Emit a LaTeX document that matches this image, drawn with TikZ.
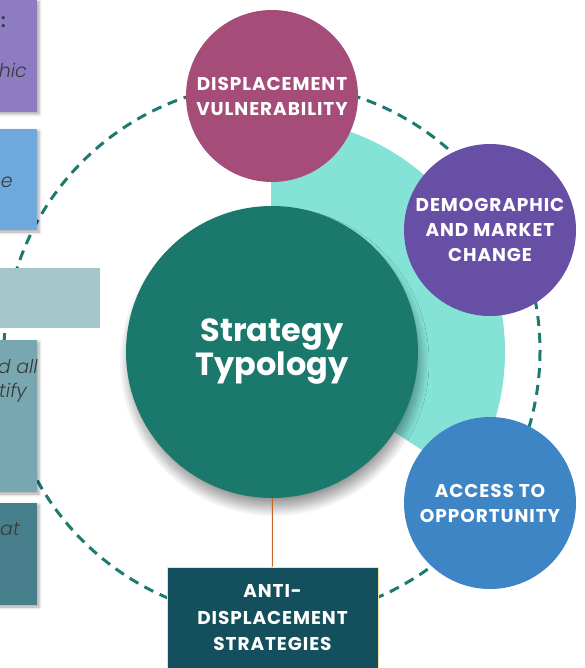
\documentclass[tikz,border=0pt]{standalone}
\usepackage{fontspec}
\setmainfont{Poppins}
\IfFontExistsTF{Poppins Light}{\newfontfamily\fragfont{Poppins Light}}{\newfontfamily\fragfont{Poppins}}
\usetikzlibrary{shadows.blur}

\definecolor{tealmain}{HTML}{1B786C}
\definecolor{turq}{HTML}{84E2D7}
\definecolor{ringcol}{HTML}{1C7A6E}
\definecolor{vulncol}{HTML}{A54D78}
\definecolor{democol}{HTML}{684FA6}
\definecolor{accesscol}{HTML}{3E85C6}
\definecolor{anticol}{HTML}{134F5C}
\definecolor{antiedge}{HTML}{F3E2A6}
\definecolor{linkcol}{HTML}{C4661F}
\definecolor{sideA}{HTML}{8E7CC3}
\definecolor{sideB}{HTML}{6FA8DC}
\definecolor{sideC}{HTML}{A5C6CA}
\definecolor{sideD}{HTML}{79A7B1}
\definecolor{sideE}{HTML}{47808C}
\definecolor{sidetext}{HTML}{3A3A3A}

\begin{document}
\begin{tikzpicture}[x=1pt,y=-1pt,
    topic/.style={circle,inner sep=0pt,minimum size=172pt,text=white,align=center,
        font=\bfseries\fontsize{18.5}{25}\selectfont\addfontfeatures{LetterSpace=5}},
    frag/.style={anchor=base east,inner sep=0pt,text=sidetext,
        font=\fragfont\itshape\fontsize{19}{24}\selectfont},
    boxshadow/.style={blur shadow={shadow xshift=2pt,shadow yshift=-2pt,
        shadow blur radius=3pt,shadow opacity=35}}]
    \useasboundingbox (0,0) rectangle (584,668);
    \def\r{268}

    % dashed ring behind everything
    \draw[ringcol,line width=3pt,dash pattern=on 10pt off 7pt] (272,351) circle[radius=\r];

    % turquoise wedge
    \fill[turq] (271,352) -- ++(-90:234) arc[start angle=-90,end angle=33,radius=234] -- cycle;

    % centre
    \node[circle,fill=tealmain,minimum size=292pt,inner sep=0pt,text=white,align=center,
        font=\bfseries\fontsize{32}{34}\selectfont,
        blur shadow={shadow xshift=2pt,shadow yshift=-10pt,shadow blur radius=9pt,
            shadow blur steps=24,shadow opacity=40}]
        (typology) at (272,352) {Strategy\\Typology};

    % boxes cut off at the left edge
    \foreach \xb/\ya/\yb/\c in {37/0/112/sideA,37/129/230/sideB,37/340/492/sideD,37/503/605/sideE}{
        \fill[\c,boxshadow] (-10,\ya) rectangle (\xb,\yb);
    }
    \fill[sideC] (-10,268) rectangle (100,328);

    \node[frag] (fraga) at (6,28) {\upshape\bfseries :};
    \node[frag] (fragb) at (27,78) {hic};
    \node[frag] (fragc) at (13,188) {e};
    \node[frag] (fragd) at (38,373) {d all};
    \node[frag] (frage) at (27,397) {tify};
    \node[frag] (fragf) at (20,535) {at};

    % the three themes
    \node[topic,fill=vulncol] (vuln) at (272,96) {DISPLACEMENT\\VULNERABILITY};
    \node[topic,fill=democol] (demo) at (490,230) {DEMOGRAPHIC\\AND MARKET\\CHANGE};
    \node[topic,fill=accesscol] (access) at (490,503) {ACCESS TO\\OPPORTUNITY};

    % strategies box
    \node[fill=anticol,draw=antiedge,line width=1pt,minimum width=211pt,minimum height=102pt,
        text=white,align=center,
        font=\bfseries\fontsize{18.5}{26.5}\selectfont\addfontfeatures{LetterSpace=5}]
        (anti) at (272.5,618) {ANTI-\\DISPLACEMENT\\STRATEGIES};

    \draw[linkcol,line width=1pt] (typology) -- (anti);
\end{tikzpicture}
\end{document}
